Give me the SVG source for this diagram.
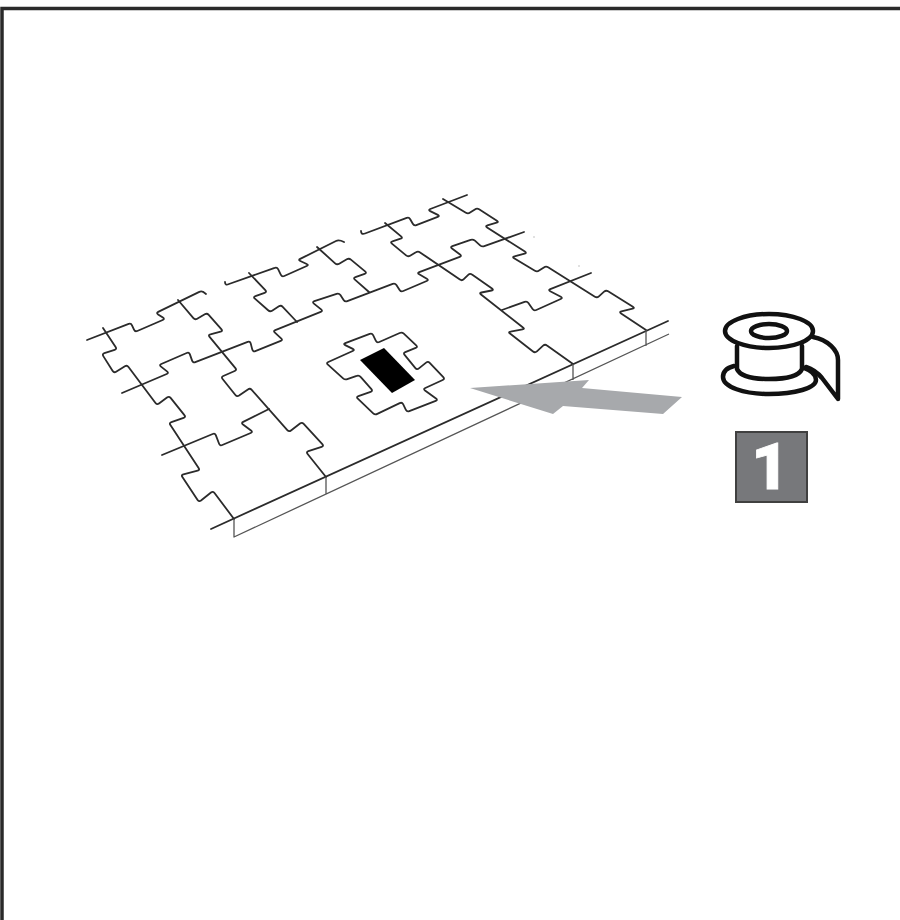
<svg xmlns="http://www.w3.org/2000/svg" width="900" height="920" viewBox="0 0 900 920">
<style>
.j{fill:none;stroke:#2b2b2b;stroke-width:1.8;stroke-linejoin:round;stroke-linecap:round}
.t{fill:none;stroke:#555;stroke-width:1.3;stroke-linejoin:round}
.s{fill:none;stroke:#111;stroke-width:4.5;stroke-linejoin:round;stroke-linecap:round}
</style>
<defs>
<filter id="soft" filterUnits="userSpaceOnUse" x="0" y="0" width="900" height="920" color-interpolation-filters="sRGB">
<feGaussianBlur stdDeviation="0.4"/>
</filter>
</defs>
<rect width="900" height="920" fill="#fff"/>
<path id="frame" d="M2 920V8.500H900" fill="none" stroke="#2a2a2a" stroke-width="3.500"/>
<g id="connectors" filter="url(#soft)">
<path class="j" d="M87 340L128.700 323.900Q131 323 132 325.300L134 329.700Q135 332 137.300 331L162.700 320Q165 319 162.900 317.600L158.100 314.400Q156 313 158.200 311.900L198.800 292.100Q201 291 203 291.800L206 294"/>
<path class="j" d="M103 328L115.600 346.900Q117 349 114.600 349.800L104.400 353.200Q102 354 103.300 356.100L112.700 370.900Q114 373 116.100 371.700L124.900 366.300Q127 365 128.500 367L155.500 403Q157 405 159 403.500L167 397.500Q169 396 170.600 397.900L184.400 415.100Q186 417 183.600 417.800L171.400 422.200Q169 423 170.400 425.100L198.600 467.900Q200 470 197.600 470.600L183.400 474.400Q181 475 182.400 477.100L197.600 499.900Q199 502 201 500.500L211 492.500Q213 491 214.500 493L234 519"/>
<path class="j" d="M122 393L166.700 374Q169 373 167 371.400L161 366.600Q159 365 161.300 364L186.700 353Q189 352 189.900 354.400L192.100 360.600Q193 363 195.300 362.100L247.700 341.900Q250 341 250.700 343.400L252.300 349.600Q253 352 255.300 351.100L280.700 340.900Q283 340 281.100 338.300L274.900 332.700Q273 331 275.300 330.100L320.700 311.900Q323 311 321.100 309.400L313.900 303.600Q312 302 314.400 301.200L336.600 293.800Q339 293 340.400 295.100L343.600 299.900Q345 302 347.300 301.100L392.700 283.900Q395 283 396.400 285.100L399.600 289.900Q401 292 403.300 291L426.700 281Q429 280 426.800 278.700L419.200 274.300Q417 273 419.300 272.100L459.700 256.900Q462 256 460 254.500L452 248.500Q450 247 452.400 246.200L470.600 239.800Q473 239 474.900 240.700L480.100 245.300Q482 247 484.300 246.200L524 232"/>
<path class="j" d="M178 300L193.400 318.100Q195 320 197.200 318.700L204.800 314.300Q207 313 208.700 314.900L221.300 329.100Q223 331 220.600 331.600L210.400 334.400Q208 335 209.600 336.900L235.400 368.100Q237 370 234.700 371L223.300 376Q221 377 222.600 379L235.400 395Q237 397 239.100 395.600L247.900 389.400Q250 388 251.700 389.900L287.300 430.100Q289 432 291 430.500L300 423.500Q302 422 303.700 423.900L322.300 444.100Q324 446 321.600 446.800L308.400 451.200Q306 452 307.600 454L326 477"/>
<path class="j" d="M162 455L212.700 434Q215 433 215.900 435.300L219.100 443.700Q220 446 222.300 445L250.700 433Q253 432 251 430.500L243 424.500Q241 423 243.200 421.900L269 409"/>
<path class="j" d="M225 282Q225 286 229 284L274.700 267.900Q277 267 278.100 269.200L280.900 274.800Q282 277 284.300 276L306.700 266Q309 265 306.700 264L300.300 261Q298 260 300.200 258.900L336 241Q339 239.500 344 242"/>
<path class="j" d="M249 273L265.300 290.200Q267 292 264.600 292.800L255.400 296.200Q253 297 254.900 298.700L268.100 310.300Q270 312 272.100 310.700L278.900 306.300Q281 305 282.700 306.800L297 322"/>
<path class="j" d="M317 247L335.100 263.300Q337 265 339.200 263.700L346.800 259.300Q349 258 350.900 259.600L365.100 271.400Q367 273 364.600 273.800L355.400 277.200Q353 278 354.900 279.600L369 292"/>
<path class="j" d="M361 231Q361 235 365 233.500L406.700 217.900Q409 217 410.200 219.200L412.800 223.800Q414 226 416.300 225.100L437.700 216.900Q440 216 437.800 214.900L430.200 211.100Q428 210 430.300 209L467 195"/>
<path class="j" d="M385 223L401.100 236.400Q403 238 400.600 238.700L392.400 241.300Q390 242 391.900 243.600L406.100 255.400Q408 257 410.100 255.700L415.900 252.300Q418 251 420.100 252.400L459.900 279.600Q462 281 463.800 279.200L468.200 274.800Q470 273 472 274.500L492 288.500Q494 290 491.500 290.500L481.500 292.500Q479 293 481 294.500L523 327.500Q525 329 522.500 329.400L510.500 331.600Q508 332 510 333.500L533 351.500Q535 353 536.900 351.300L543.100 345.700Q545 344 547 345.500L573 364"/>
<path class="j" d="M443 199L465.900 212.700Q468 214 470.100 212.600L474.900 209.400Q477 208 479.100 209.300L496.900 220.700Q499 222 496.600 222.700L487.400 225.300Q485 226 487.100 227.400L524.900 251.600Q527 253 524.600 253.600L514.400 256.400Q512 257 514.100 258.300L534.900 270.700Q537 272 539.100 270.600L543.900 267.400Q546 266 548.100 267.300L594.900 296.700Q597 298 598.900 296.300L604.100 291.700Q606 290 608.100 291.300L632.900 306.700Q635 308 632.600 308.600L621.400 311.400Q619 312 621.100 313.400L646 330"/>
<path class="j" d="M502 310L524.600 301.900Q527 301 528.400 303L532.600 309Q534 311 536.300 310L560.700 299Q563 298 560.800 296.800L550.200 291.200Q548 290 550.300 289.100L591 273"/>
<path class="j" d="M211 529L668 321"/>
<path class="t" d="M234 519V537L669 334M326 477V494M573 364V380M646 330V346"/>
</g>
<g id="center-piece">
<path class="j" filter="url(#soft)" d="M328.300 362L352.700 351Q355 350 352.800 348.900L345.200 345.100Q343 344 345.300 343.100L369.700 333.900Q372 333 373.100 335.200L375.900 340.800Q377 343 379.300 342L399.700 333Q402 332 403.800 333.700L416.200 345.300Q418 347 415.700 347.900L405.300 352.100Q403 353 404.600 354.900L415.400 368.100Q417 370 418.900 368.400L426.100 362.600Q428 361 429.700 362.800L443.300 377.200Q445 379 442.700 380L425.300 388Q423 389 425 390.500L436 398.500Q438 400 435.700 400.900L409.300 411.100Q407 412 405.900 409.800L403.100 404.200Q402 402 399.700 403.100L377.300 413.900Q375 415 373.200 413.300L357.800 398.700Q356 397 358.400 396.200L370.600 391.800Q373 391 371.400 389.100L360.600 376.900Q359 375 356.700 375.900L347.300 379.100Q345 380 343.100 378.300L327.900 364.700Q326 363 328.300 362Z"/>
<path d="M360 360L384 348L415 380L392 393Z" fill="#000"/>
</g>
<g id="arrow">
<path d="M470 388L589 380L582 388L682 397L663 414L563 406L553 414Z" fill="#a7a9ac"/>
</g>
<g id="specks" fill="#bbb">
<circle cx="534" cy="237" r="0.8"/>
<circle cx="579" cy="266" r="0.8"/>
</g>
<g id="spool">
<path class="s" d="M813 337C828 340 838 350 838 360V399L822 378C817 372 812 369 806 367"/>
<path class="s" d="M734 366C726 368 723 372 723 377C723 387 744 394 769 394C795 394 816 388 816 380C816 375 812 371 804 368"/>
<path class="s" d="M737 346V369C740 376 752 379 769 379C786 379 799 376 802 369V346"/>
<ellipse class="s" cx="769" cy="331" rx="44" ry="17"/>
<ellipse class="s" cx="769" cy="331" rx="18" ry="7"/>
</g>
<g id="badge">
<rect x="736" y="432" width="71" height="70" fill="#77787b" stroke="#404040" stroke-width="2"/>
<text x="770" y="489" text-anchor="middle" font-family="Roboto, Arial, sans-serif" font-weight="900" font-size="65" fill="#fff" stroke="#fff" stroke-width="0.8">1</text>
</g>
</svg>
